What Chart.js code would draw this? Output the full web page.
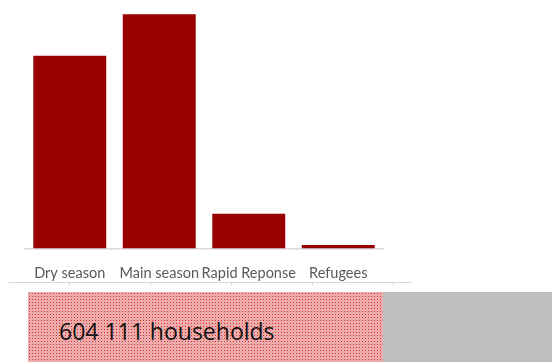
<!DOCTYPE html>
<html>
<head>
<meta charset="utf-8">
<script src="https://cdn.jsdelivr.net/npm/chart.js@4/dist/chart.umd.min.js"></script>
<style>
  html, body { margin: 0; padding: 0; background: #fff; }
  body { width: 552px; height: 362px; position: relative; overflow: hidden; }
  #wrap { position: absolute; left: 0; top: 0; width: 552px; height: 290px; }
  /* second axis line below the labels */
  #rule {
    position: absolute; left: 9px; top: 282px; width: 403px; height: 3px;
    border-top: 1px solid #d9d9d9;
    background-image: linear-gradient(to right, #d9d9d9 1px, transparent 1px);
    background-size: 81px 3px; background-position: 60px 0; background-repeat: repeat-x;
  }
  #total {
    position: absolute; left: 28px; top: 292px; width: 355px; height: 70px;
    background-color: #fcefef;
    background-image:
      radial-gradient(circle, #d02828 0.72px, transparent 1.08px),
      radial-gradient(circle, #d02828 0.72px, transparent 1.08px);
    background-size: 3px 3px, 3px 3px;
    background-position: 0 0, 1.5px 1.5px;
  }
  #total span {
    position: absolute; left: 31px; top: 23px; line-height: 23px;
    font: 23px "Open Sans", sans-serif; color: #111; white-space: nowrap;
  }
  #grey { position: absolute; left: 383px; top: 292px; width: 169px; height: 70px; background: #bfbfbf; }
</style>
</head>
<body>
<div id="wrap"><canvas id="c" width="552" height="290"></canvas></div>
<div id="rule"></div>
<div id="total"><span>604 111 households</span></div>
<div id="grey"></div>
<script>
"use strict";

// ─── Data ──────────────────────────────────────────────────
const CATEGORIES = ["Dry season", "Main season", "Rapid Reponse", "Refugees"];
const HOUSEHOLDS = [250300, 304100, 45200, 4511];

const BAR_COLOR = "#990000";

new Chart(document.getElementById("c"), {
  type: "bar",
  data: {
    labels: CATEGORIES,
    datasets: [{
      data: HOUSEHOLDS,
      backgroundColor: BAR_COLOR,
      borderWidth: 0,
      categoryPercentage: 1,
      barPercentage: 0.815,
    }],
  },
  options: {
    responsive: false,
    animation: false,
    layout: { padding: { left: 25, right: 169, top: 2, bottom: 0 } },
    scales: {
      x: {
        grid: { display: false },
        border: { display: true, color: "#d9d9d9", width: 1.5 },
        ticks: {
          padding: 8,
          color: "#595959",
          font: { family: "Lato, sans-serif", size: 14.5 },
          maxRotation: 0,
          autoSkip: false,
        },
      },
      y: { display: false, min: 0, max: 320000 },
    },
    plugins: { legend: { display: false }, tooltip: { enabled: false } },
  },
});
</script>
</body>
</html>
